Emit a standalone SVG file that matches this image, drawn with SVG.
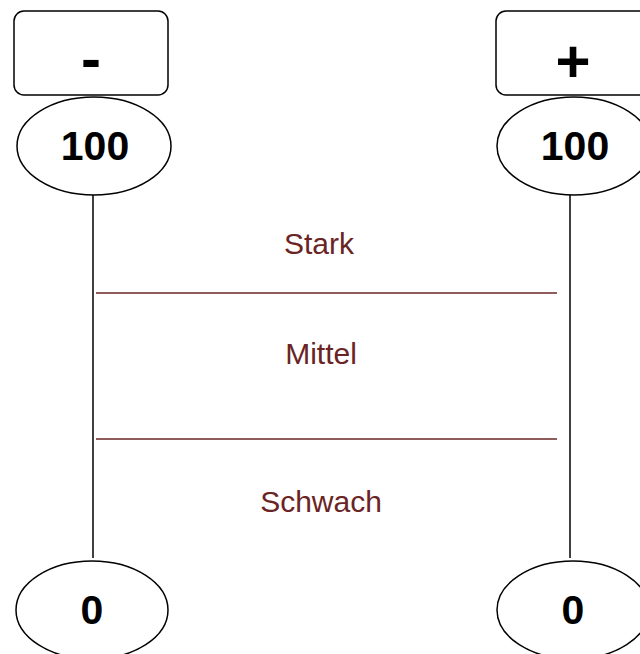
<svg xmlns="http://www.w3.org/2000/svg" width="640" height="654" viewBox="0 0 640 654">
<style>
.box{fill:#fff;stroke:#000;stroke-width:1.5}
.sym{font-family:"Liberation Sans",Arial,sans-serif;font-weight:bold;font-size:60px;text-anchor:middle;fill:#000}
.num{font-family:"Liberation Sans",Arial,sans-serif;font-weight:bold;font-size:41px;text-anchor:middle;fill:#000}
.lbl{font-family:"Liberation Sans",Arial,sans-serif;font-size:30px;text-anchor:middle;fill:#6B2424}
.axis{stroke:#000;stroke-width:1.5;fill:none}
.sep{stroke:#6B2424;stroke-width:1.5}
</style>
<rect width="640" height="654" fill="#fff"/>
<g id="connectors">
<line class="axis" x1="93" y1="195" x2="93" y2="558"/>
<line class="axis" x1="570" y1="195" x2="570" y2="558"/>
</g>
<g id="minus-box"><rect class="box" x="14" y="11" width="154" height="84" rx="10"/><text class="sym" x="91" y="79">-</text></g>
<g id="plus-box"><rect class="box" x="496" y="11" width="154" height="84" rx="10"/><text class="sym" x="573" y="82">+</text></g>
<g id="left-top"><ellipse class="box" cx="94" cy="146" rx="77" ry="49"/><text class="num" x="95" y="160">100</text></g>
<g id="right-top"><ellipse class="box" cx="574" cy="146" rx="77" ry="49"/><text class="num" x="575" y="160">100</text></g>
<g id="left-bottom"><ellipse class="box" cx="92" cy="610" rx="76" ry="49"/><text class="num" x="92" y="624">0</text></g>
<g id="right-bottom"><ellipse class="box" cx="573" cy="610" rx="76" ry="49"/><text class="num" x="573" y="624">0</text></g>
<g id="scale">
<text class="lbl" x="319" y="254">Stark</text>
<line class="sep" x1="96" y1="293" x2="557" y2="293"/>
<text class="lbl" x="321" y="364">Mittel</text>
<line class="sep" x1="96" y1="439" x2="557" y2="439"/>
<text class="lbl" x="321" y="512">Schwach</text>
</g>
</svg>
